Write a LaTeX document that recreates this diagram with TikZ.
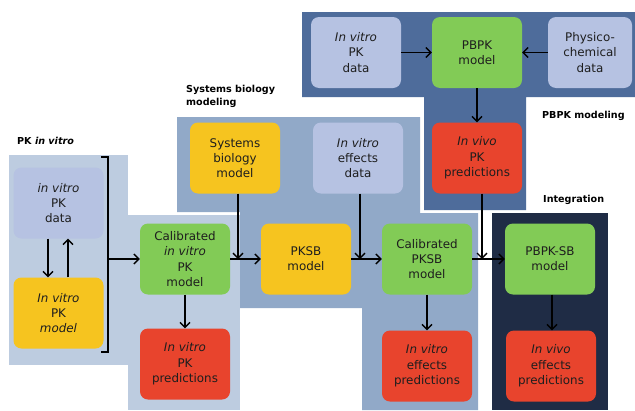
\documentclass[tikz,border=0pt]{standalone}
\usepackage{fontspec}
\setmainfont{DejaVu Sans}
\usetikzlibrary{arrows.meta}
\definecolor{pklight}{HTML}{BDCCE0}
\definecolor{sbmid}{HTML}{91A9C8}
\definecolor{pbpkdark}{HTML}{4E6C9B}
\definecolor{intnavy}{HTML}{1F2C45}
\definecolor{dataC}{HTML}{B6C2E2}
\definecolor{yelC}{HTML}{F6C41F}
\definecolor{grnC}{HTML}{82CB56}
\definecolor{redC}{HTML}{E8442D}
\definecolor{txtC}{HTML}{1E1E1E}
\begin{document}
\begin{tikzpicture}[x=1pt,y=-1pt,
  box/.style={rounded corners=8pt, minimum width=90pt, minimum height=71pt,
    align=center, font=\fontsize{11.9}{15.3}\selectfont, text=txtC, inner sep=1pt},
  databox/.style={box, fill=dataC},
  yelbox/.style={box, fill=yelC},
  grnbox/.style={box, fill=grnC},
  redbox/.style={box, fill=redC},
  lbl/.style={font=\fontsize{9.6}{13}\selectfont\bfseries, text=black, align=left, inner sep=0pt},
  conn/.style={line width=1.6pt, black, -{Straight Barb[length=5pt,width=10pt,line width=1.4pt]}},
  plain/.style={line width=1.6pt, black}
]
\useasboundingbox (0,0) rectangle (635,410);
\fill[white] (0,0) rectangle (635,410);

% panels
\fill[pklight] (9,155) rectangle (128,365);
\fill[pklight] (128,215) rectangle (240,410);
\fill[sbmid] (177,117) -- (420,117) -- (420,213) -- (478,213) -- (478,410)
  -- (362,410) -- (362,308) -- (240,308) -- (240,212) -- (177,212) -- cycle;
\fill[pbpkdark] (302,12) -- (635,12) -- (635,97) -- (526,97) -- (526,210)
  -- (424,210) -- (424,97) -- (302,97) -- cycle;
\fill[intnavy] (492,213) rectangle (608,410);

% labels
\node[lbl, anchor=west] (l1) at (17,141) {PK \textit{in vitro}};
\node[lbl, anchor=north west] (l2) at (186,85) {Systems biology\\modeling};
\node[lbl, anchor=west] (l3) at (542,116) {PBPK modeling};
\node[lbl, anchor=west] (l4) at (543,200) {Integration};

% nodes
\node[databox] (d1) at (58.5,203) {\textit{in vitro}\\PK\\data};
\node[yelbox] (m1) at (58.5,313) {\textit{In vitro}\\PK\\\textit{model}};
\node[grnbox] (cal1) at (185,259) {Calibrated\\\textit{in vitro}\\PK\\model};
\node[redbox] (pred1) at (185,364) {\textit{In vitro}\\PK\\predictions};
\node[yelbox] (sbm) at (235,158) {Systems\\biology\\model};
\node[databox] (effd) at (358,158) {\textit{In vitro}\\effects\\data};
\node[yelbox] (pksb) at (306,259) {PKSB\\model};
\node[grnbox] (cal2) at (427,259) {Calibrated\\PKSB\\model};
\node[redbox] (pred2) at (427,366) {\textit{In vitro}\\effects\\predictions};
\node[grnbox] (pbpksb) at (550,259) {PBPK-SB\\model};
\node[redbox] (pred3) at (551,366) {\textit{In vivo}\\effects\\predictions};
\node[databox] (d2) at (356,52.5) {\textit{In vitro}\\PK\\data};
\node[grnbox] (pbpk) at (477,52.5) {PBPK\\model};
\node[databox, minimum width=84pt] (phys) at (590,52.5) {Physico-\\chemical\\data};
\node[redbox] (pred4) at (477,158) {\textit{In vivo}\\PK\\predictions};

% coordinates
\coordinate (bt) at (108,157);
\coordinate (bb) at (108,352);
\coordinate (btl) at (101,157);
\coordinate (bbl) at (101,352);
\coordinate (bm) at (108,259);
\coordinate (j1) at (238,259);
\coordinate (j2) at (360,259);
\coordinate (j3) at (482,259);

% left loop
\draw[conn] (d1.south -| 48,0) -- (m1.north -| 48,0);
\draw[conn] (m1.north -| 68,0) -- (d1.south -| 68,0);
% bracket
\draw[plain, line cap=butt] (btl) -- (bt) -- (bb) -- (bbl);
\draw[conn] (bm) -- (cal1.west);
\draw[conn] (cal1.south) -- (pred1.north);
% main row
\draw[conn] (cal1.east) -- (pksb.west);
\draw[conn] (sbm.south -| j1) -- (j1);
\draw[conn] (pksb.east) -- (cal2.west);
\draw[conn] (effd.south -| j2) -- (j2);
\draw[conn] (cal2.east) -- (pbpksb.west);
\draw[conn] (pred4.south -| j3) -- (j3);
\draw[conn] (cal2.south) -- (pred2.north);
\draw[conn] (pbpksb.south -| 552,0) -- (pred3.north -| 552,0);
% top row
\draw[conn] (d2.east) -- (pbpk.west);
\draw[conn] (phys.west) -- (pbpk.east);
\draw[conn] (pbpk.south) -- (pred4.north);
\end{tikzpicture}
\end{document}
